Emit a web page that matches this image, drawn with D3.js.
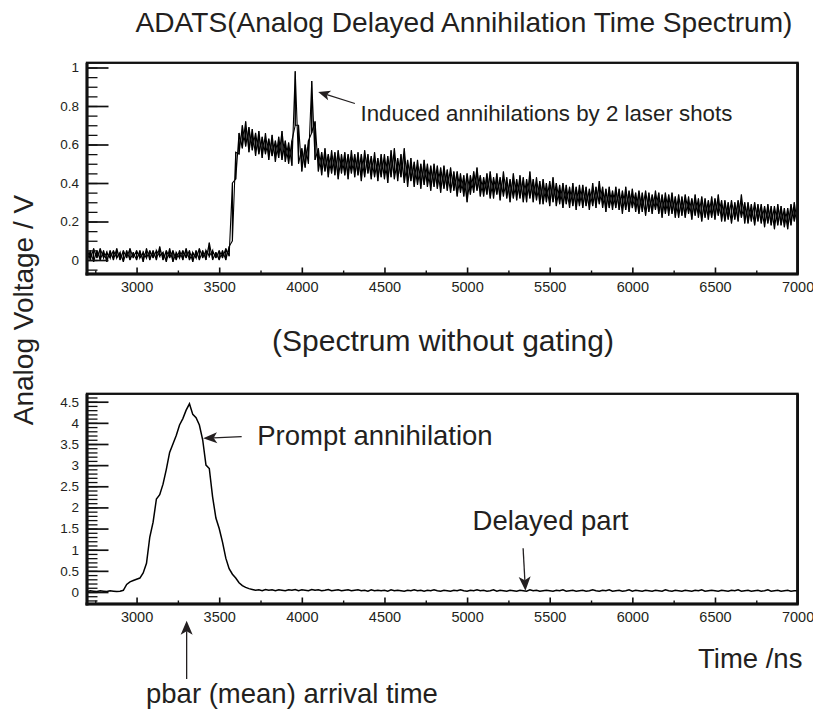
<!DOCTYPE html>
<html><head><meta charset="utf-8">
<script src="https://cdn.jsdelivr.net/npm/d3@7/dist/d3.min.js"></script>
<style>
body{margin:0;background:#fff}
svg{display:block}
text{font-family:"Liberation Sans",Arial,Helvetica,sans-serif;fill:#231f20}
</style>
</head><body>
<svg id="chart" width="813" height="713"></svg>
<script>
// ---------------- data ----------------
const timeStartNs = 2700, timeEndNs = 7000, binNs = 20;
const xTickValues = [3000, 3500, 4000, 4500, 5000, 5500, 6000, 6500, 7000];
const xTickLabels = ["3000", "3500", "4000", "4500", "5000", "5500", "6000", "6500", "7000"];
const xMinorTicks = [2750, 3250, 3750, 4250, 4750, 5250, 5750, 6250, 6750];
const topYTicks = [0, 0.2, 0.4, 0.6, 0.8, 1];
const topYTickLabels = ["0", "0.2", "0.4", "0.6", "0.8", "1"];
const bottomYTicks = [0, 0.5, 1, 1.5, 2, 2.5, 3, 3.5, 4, 4.5];
const bottomYTickLabels = ["0", "0.5", "1", "1.5", "2", "2.5", "3", "3.5", "4", "4.5"];

// ADATS trace: min / max of the noisy signal inside each 20 ns bin (V)
const adatsLow = [
  -0.01, 0.00,-0.01, 0.01, 0.00, 0.01,-0.01, 0.01, 0.00, 0.01,   // 2700
   0.00,-0.01, 0.01, 0.00, 0.01, 0.00, 0.01,-0.01, 0.01, 0.00,   // 2900
   0.01, 0.00, 0.02, 0.00,-0.01, 0.01,-0.01, 0.00, 0.01, 0.00,   // 3100
   0.01, 0.00,-0.01, 0.01, 0.00, 0.01, 0.00, 0.02, 0.00, 0.01,   // 3300
   0.00, 0.01, 0.00, 0.02, 0.10, 0.42, 0.55, 0.58, 0.59, 0.56,   // 3500
   0.57, 0.54, 0.55, 0.53, 0.55, 0.52, 0.54, 0.51, 0.53, 0.52,   // 3700
   0.51, 0.50, 0.49, 0.70, 0.50, 0.46, 0.48, 0.50, 0.66, 0.52,   // 3900
   0.46, 0.44, 0.46, 0.43, 0.45, 0.44, 0.42, 0.45, 0.44, 0.42,   // 4100
   0.45, 0.43, 0.44, 0.41, 0.43, 0.45, 0.42, 0.43, 0.41, 0.43,   // 4300
   0.42, 0.40, 0.43, 0.42, 0.41, 0.43, 0.40, 0.38, 0.41, 0.38,   // 4500
   0.39, 0.37, 0.39, 0.38, 0.36, 0.38, 0.37, 0.35, 0.37, 0.36,   // 4700
   0.35, 0.36, 0.33, 0.35, 0.33, 0.30, 0.34, 0.35, 0.36, 0.33,   // 4900
   0.33, 0.34, 0.32, 0.32, 0.34, 0.31, 0.33, 0.32, 0.30, 0.32,   // 5100
   0.31, 0.32, 0.30, 0.30, 0.32, 0.30, 0.31, 0.29, 0.29, 0.30,   // 5300
   0.28, 0.30, 0.28, 0.29, 0.27, 0.29, 0.27, 0.28, 0.26, 0.28,   // 5500
   0.27, 0.28, 0.26, 0.28, 0.27, 0.29, 0.27, 0.25, 0.27, 0.26,   // 5700
   0.27, 0.26, 0.24, 0.26, 0.25, 0.27, 0.25, 0.24, 0.25, 0.23,   // 5900
   0.25, 0.24, 0.26, 0.24, 0.22, 0.24, 0.23, 0.24, 0.22, 0.22,   // 6100
   0.23, 0.22, 0.24, 0.21, 0.23, 0.22, 0.20, 0.22, 0.21, 0.22,   // 6300
   0.21, 0.23, 0.20, 0.20, 0.21, 0.19, 0.21, 0.20, 0.22, 0.19,   // 6500
   0.19, 0.20, 0.18, 0.20, 0.19, 0.17, 0.19, 0.18, 0.16, 0.18,   // 6700
   0.18, 0.17, 0.16, 0.18, 0.20, 0.18                            // 6900
];
const adatsHigh = [
   0.06, 0.05, 0.06, 0.05, 0.06, 0.05, 0.04, 0.05, 0.05, 0.06,   // 2700
   0.04, 0.05, 0.05, 0.06, 0.04, 0.05, 0.05, 0.04, 0.06, 0.05,   // 2900
   0.05, 0.05, 0.07, 0.04, 0.05, 0.06, 0.05, 0.04, 0.05, 0.05,   // 3100
   0.06, 0.05, 0.04, 0.05, 0.06, 0.05, 0.05, 0.09, 0.05, 0.04,   // 3300
   0.05, 0.05, 0.06, 0.07, 0.40, 0.56, 0.66, 0.70, 0.72, 0.69,   // 3500
   0.68, 0.66, 0.67, 0.64, 0.66, 0.63, 0.65, 0.62, 0.64, 0.67,   // 3700
   0.62, 0.61, 0.62, 0.98, 0.70, 0.58, 0.60, 0.62, 0.93, 0.72,   // 3900
   0.58, 0.56, 0.58, 0.55, 0.57, 0.56, 0.57, 0.55, 0.56, 0.55,   // 4100
   0.57, 0.55, 0.56, 0.55, 0.57, 0.55, 0.54, 0.56, 0.53, 0.55,   // 4300
   0.55, 0.54, 0.57, 0.58, 0.53, 0.55, 0.58, 0.52, 0.53, 0.51,   // 4500
   0.52, 0.50, 0.52, 0.50, 0.49, 0.50, 0.49, 0.48, 0.49, 0.47,   // 4700
   0.48, 0.46, 0.46, 0.45, 0.44, 0.45, 0.44, 0.46, 0.48, 0.44,   // 4900
   0.43, 0.45, 0.46, 0.43, 0.45, 0.43, 0.46, 0.43, 0.42, 0.45,   // 5100
   0.42, 0.44, 0.43, 0.42, 0.46, 0.42, 0.43, 0.41, 0.42, 0.40,   // 5300
   0.41, 0.43, 0.40, 0.39, 0.40, 0.39, 0.38, 0.40, 0.38, 0.39,   // 5500
   0.39, 0.38, 0.37, 0.40, 0.38, 0.41, 0.38, 0.37, 0.38, 0.36,   // 5700
   0.38, 0.37, 0.36, 0.38, 0.36, 0.37, 0.35, 0.36, 0.35, 0.36,   // 5900
   0.35, 0.34, 0.36, 0.35, 0.34, 0.35, 0.34, 0.35, 0.33, 0.34,   // 6100
   0.33, 0.34, 0.33, 0.32, 0.34, 0.32, 0.33, 0.32, 0.31, 0.33,   // 6300
   0.32, 0.34, 0.31, 0.31, 0.30, 0.31, 0.30, 0.31, 0.34, 0.30,   // 6500
   0.30, 0.29, 0.30, 0.29, 0.29, 0.28, 0.29, 0.28, 0.28, 0.29,   // 6700
   0.28, 0.27, 0.27, 0.29, 0.30, 0.28                            // 6900
];
// Spectrum without gating (V), one value per 20 ns bin
const promptV = [
  0.01, 0.03, 0.02, 0.01, 0.03, 0.02, 0.01, 0.03, 0.02, 0.01,   // 2700
  0.02, 0.04, 0.18, 0.24, 0.27, 0.30, 0.33, 0.45, 0.68, 1.30,   // 2900
  1.65, 2.20, 2.30, 2.55, 2.90, 3.30, 3.50, 3.70, 3.95, 4.10,   // 3100
  4.30, 4.45, 4.20, 4.12, 3.95, 3.60, 3.00, 2.92, 2.25, 1.75,   // 3300
  1.50, 1.18, 0.80, 0.55, 0.42, 0.33, 0.22, 0.15, 0.11, 0.08,   // 3500
  0.06, 0.04, 0.05, 0.03, 0.06, 0.04, 0.05, 0.03, 0.05, 0.04,   // 3700
  0.03, 0.05, 0.04, 0.06, 0.03, 0.05, 0.04, 0.03, 0.06, 0.04,   // 3900
  0.05, 0.03, 0.04, 0.06, 0.03, 0.04, 0.05, 0.03, 0.04, 0.05,   // 4100
  0.03, 0.04, 0.05, 0.03, 0.04, 0.02, 0.05, 0.03, 0.04, 0.03,   // 4300
  0.04, 0.02, 0.05, 0.03, 0.04, 0.03, 0.02, 0.04, 0.03, 0.05,   // 4500
  0.03, 0.04, 0.02, 0.04, 0.03, 0.05, 0.03, 0.02, 0.04, 0.03,   // 4700
  0.02, 0.04, 0.03, 0.05, 0.03, 0.02, 0.04, 0.03, 0.05, 0.03,   // 4900
  0.04, 0.02, 0.03, 0.05, 0.02, 0.04, 0.03, 0.02, 0.04, 0.03,   // 5100
  0.02, 0.04, 0.03, 0.02, 0.05, 0.03, 0.04, 0.02, 0.03, 0.04,   // 5300
  0.03, 0.02, 0.04, 0.03, 0.05, 0.02, 0.03, 0.04, 0.02, 0.03,   // 5500
  0.04, 0.02, 0.03, 0.05, 0.03, 0.02, 0.04, 0.03, 0.05, 0.02,   // 5700
  0.03, 0.04, 0.02, 0.03, 0.05, 0.02, 0.04, 0.03, 0.02, 0.04,   // 5900
  0.03, 0.02, 0.04, 0.03, 0.02, 0.05, 0.03, 0.02, 0.04, 0.03,   // 6100
  0.02, 0.04, 0.03, 0.02, 0.04, 0.03, 0.05, 0.02, 0.03, 0.04,   // 6300
  0.03, 0.02, 0.04, 0.03, 0.02, 0.04, 0.03, 0.05, 0.02, 0.03,   // 6500
  0.04, 0.02, 0.03, 0.04, 0.02, 0.03, 0.05, 0.02, 0.03, 0.04,   // 6700
  0.02, 0.03, 0.04, 0.02, 0.03, 0.03                            // 6900
];
const binTimes = d3.range(timeStartNs, timeEndNs + 1, binNs);

// ---------------- layout ----------------
const svg = d3.select("#chart");
const FONT = '"Liberation Sans",Arial,Helvetica,sans-serif';
const left = 87, right = 797.6;
const panels = [
  {top: 62.8, bottom: 274, domain: [-0.0727, 1.0244], ticks: topYTicks, labels: topYTickLabels, minorStep: 0.05, minorFrom: -0.05},
  {top: 393.8, bottom: 604, domain: [-0.284, 4.687], ticks: bottomYTicks, labels: bottomYTickLabels, minorStep: 0.1, minorFrom: -0.2}
];
const x = d3.scaleLinear().domain([timeStartNs, timeEndNs]).range([left, right]);

panels.forEach((p, k) => {
  p.y = d3.scaleLinear().domain(p.domain).range([p.bottom, p.top]);
  const g = svg.append("g");
  const cid = "clip" + k;
  svg.append("clipPath").attr("id", cid).append("rect")
    .attr("x", left).attr("y", p.top).attr("width", right - left).attr("height", p.bottom - p.top);
  p.plot = g.append("g").attr("clip-path", `url(#${cid})`);

  // minor y ticks
  const minor = d3.range(p.minorFrom, p.domain[1], p.minorStep).filter(v => v > p.domain[0]);
  g.append("g").attr("transform", `translate(${left},0)`)
    .call(d3.axisLeft(p.y).tickValues(minor).tickSize(-10.5).tickFormat(""))
    .call(s => s.select(".domain").remove())
    .call(s => s.selectAll("line").attr("stroke", "#111").attr("stroke-width", 1.3));
  // major y ticks
  g.append("g").attr("transform", `translate(${left},0)`)
    .call(d3.axisLeft(p.y).tickValues(p.ticks).tickSize(-21.5).tickPadding(8)
      .tickFormat((d, i) => p.labels[i]))
    .call(s => s.select(".domain").remove())
    .call(s => s.selectAll("line").attr("stroke", "#111").attr("stroke-width", 1.7))
    .call(s => s.selectAll("text").attr("font-family", FONT).attr("font-size", 13.5).attr("fill", "#231f20"));

  // x ticks
  g.append("g").attr("transform", `translate(0,${p.bottom})`)
    .call(d3.axisBottom(x).tickValues(xMinorTicks).tickSize(-3.5).tickFormat(""))
    .call(s => s.select(".domain").remove())
    .call(s => s.selectAll("line").attr("stroke", "#111").attr("stroke-width", 1.4));
  g.append("g").attr("transform", `translate(0,${p.bottom})`)
    .call(d3.axisBottom(x).tickValues(xTickValues).tickSize(-6.5).tickPadding(7.5)
      .tickFormat((d, i) => xTickLabels[i]))
    .call(s => s.select(".domain").remove())
    .call(s => s.selectAll("line").attr("stroke", "#111").attr("stroke-width", 1.6))
    .call(s => s.selectAll("text").attr("font-family", FONT).attr("font-size", 14.5).attr("fill", "#231f20"));

  // frame
  g.append("rect").attr("x", left).attr("y", p.top).attr("width", right - left).attr("height", p.bottom - p.top)
    .attr("fill", "none").attr("stroke", "#111").attr("stroke-width", 2.3);
  g.append("line").attr("x1", left).attr("x2", left).attr("y1", p.top).attr("y2", p.bottom + 1.5)
    .attr("stroke", "#111").attr("stroke-width", 3);
  g.append("line").attr("x1", left - 1.5).attr("x2", right + 1).attr("y1", p.bottom).attr("y2", p.bottom)
    .attr("stroke", "#111").attr("stroke-width", 2.8);
  g.append("line").attr("x1", right).attr("x2", right).attr("y1", p.top).attr("y2", p.bottom)
    .attr("stroke", "#111").attr("stroke-width", 2.8);
});

// top trace: the min/max range of each bin, cross-joined to the next bin
const yT = panels[0].y, yB = panels[1].y;
const upPts = [], downPts = [];
binTimes.forEach((t, i) => {
  upPts.push([t, adatsLow[i]], [t, adatsHigh[i]]);
  downPts.push([t, adatsHigh[i]], [t, adatsLow[i]]);
});
const topLine = d3.line().x(d => x(d[0])).y(d => yT(d[1]));
[upPts, downPts].forEach(pts => {
  panels[0].plot.append("path")
    .attr("d", topLine(pts))
    .attr("fill", "none").attr("stroke", "#000").attr("stroke-width", 1.1);
});

panels[1].plot.append("path")
  .attr("d", d3.line().x((d, i) => x(binTimes[i])).y(d => yB(d))(promptV))
  .attr("fill", "none").attr("stroke", "#000").attr("stroke-width", 1.5);

// ---------------- texts & arrows ----------------
function arrow(x1, y1, x2, y2, len, half) {
  const a = Math.atan2(y2 - y1, x2 - x1);
  const bx = x2 - len * Math.cos(a), by = y2 - len * Math.sin(a);
  const nx = -Math.sin(a), ny = Math.cos(a);
  const mx = x2 - len * 0.75 * Math.cos(a), my = y2 - len * 0.75 * Math.sin(a);
  svg.append("line").attr("x1", x1).attr("y1", y1).attr("x2", mx).attr("y2", my)
    .attr("stroke", "#231f20").attr("stroke-width", 1.3);
  svg.append("path").attr("d",
    `M${x2},${y2}L${bx + nx * half},${by + ny * half}L${mx},${my}L${bx - nx * half},${by - ny * half}Z`)
    .attr("fill", "#231f20");
}
function label(txt, x0, y0, size, anchor) {
  return svg.append("text").attr("x", x0).attr("y", y0).attr("font-size", size)
    .attr("text-anchor", anchor || "start").attr("font-family", FONT).text(txt);
}

label("ADATS(Analog Delayed Annihilation Time Spectrum)", 464, 32, 28.1, "middle");
label("(Spectrum without gating)", 443, 351, 30, "middle");
svg.append("text").attr("transform", "translate(33,310) rotate(-90)")
  .attr("text-anchor", "middle").attr("font-size", 28).attr("font-family", FONT).text("Analog Voltage / V");
label("Time /ns", 698, 668, 27.5);
label("pbar (mean) arrival time", 146, 703, 27.5);

// Induced annihilations
arrow(x(4321), yT(0.813), x(4099), yT(0.873), 12, 5);
label("Induced annihilations by 2 laser shots", x(4355), yT(0.723), 22.3);
// Prompt annihilation
arrow(x(3636), yB(3.672), x(3403), yB(3.634), 14, 5.5);
label("Prompt annihilation", x(3730), yB(3.476), 27.5);
// Delayed part
arrow(x(5339), yB(1.033), x(5353), yB(0.031), 14, 6);
label("Delayed part", x(5033), yB(1.466), 27.5);
// pbar arrival
arrow(x(3303), 679, x(3303), 620.7, 14, 6);
</script>
</body></html>
